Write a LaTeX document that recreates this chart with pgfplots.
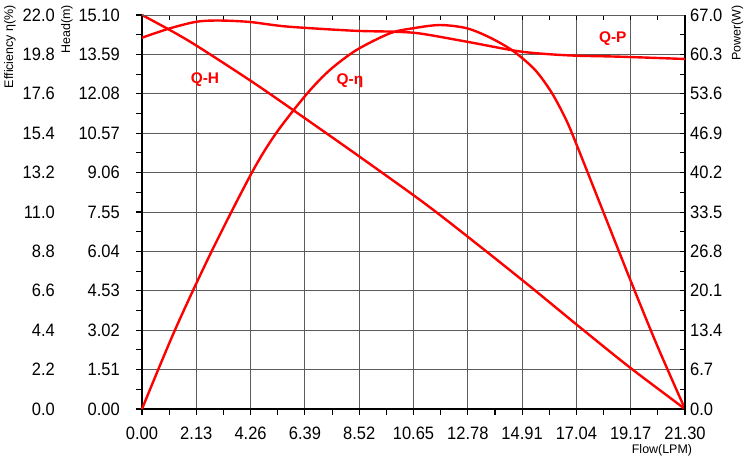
\documentclass[border=0pt]{standalone}
\usepackage{fontspec}
\setmainfont{Liberation Sans}
\newfontfamily\tickfont[FakeStretch=0.92]{Liberation Sans}
\usepackage{pgfplots}
\pgfplotsset{compat=1.18}
\definecolor{gridgray}{gray}{0.36}
\definecolor{curvered}{RGB}{255,0,0}
\pgfplotsset{
  base/.style={scale only axis, width=543bp, height=394bp, xmin=0, xmax=21.3,
    at={(0,0)}, anchor=south west, clip=false},
  tickfnt/.style={font=\fontsize{18}{18}\tickfont},
  curve/.style={curvered, line width=2.4bp, smooth},
}
\begin{document}
\begin{tikzpicture}
% ---------- Head axis (main) ----------
\begin{axis}[base, ymin=0, ymax=15.1,
  axis x line*=bottom, axis y line*=left,
  axis line style={black, line width=1.4bp},
  xtick={0,2.13,4.26,6.39,8.52,10.65,12.78,14.91,17.04,19.17,21.3},
  xticklabels={0.00,2.13,4.26,6.39,8.52,10.65,12.78,14.91,17.04,19.17,21.30},
  ytick={0,1.51,3.02,4.53,6.04,7.55,9.06,10.57,12.08,13.59,15.1},
  yticklabels={0.00,1.51,3.02,4.53,6.04,7.55,9.06,10.57,12.08,13.59,15.10},
  minor tick num=1,
  tick align=inside, major tick length=-6bp, minor tick length=-6bp,
  tick style={black, line width=1.1bp},
  grid=major, grid style={gridgray, line width=0.9bp},
  xticklabel style={tickfnt, anchor=north, inner sep=0pt, yshift=-17.5bp},
  yticklabel style={tickfnt, anchor=east, inner sep=0pt, xshift=-22bp},
]
\addplot[curve] coordinates {
(0,15.10) (1.10,14.52) (2.13,13.93) (4.26,12.58) (5.94,11.45) (8.55,9.66)
(11.17,7.82) (13.39,6.13) (15.22,4.70) (17.18,3.13) (19.14,1.59) (21.3,0)
};
\node[font=\fontsize{15.5}{15.5}\selectfont\bfseries, text=curvered, inner sep=0pt]
  at (axis description cs:0.116,0.835) {Q-H};
\node[font=\fontsize{15.5}{15.5}\selectfont\bfseries, text=curvered, inner sep=0pt]
  at (axis description cs:0.383,0.8325) {Q-η};
\node[font=\fontsize{15.5}{15.5}\selectfont\bfseries, text=curvered, inner sep=0pt]
  at (axis description cs:0.867,0.939) {Q-P};
\node[font=\fontsize{12.5}{12.5}\selectfont, inner sep=0pt]
  at (axis description cs:0.9576,-0.1058) {Flow(LPM)};
\node[font=\fontsize{12.5}{12.5}\selectfont, inner sep=0pt, rotate=90, anchor=east]
  at (axis description cs:-0.1381,1.0254) {Head(m)};
\node[font=\fontsize{12.5}{12.5}\selectfont, inner sep=0pt, rotate=90, anchor=east]
  at (axis description cs:-0.2431,1.0254) {Efficiency η(\%)};
\node[font=\fontsize{12.5}{12.5}\selectfont, inner sep=0pt, rotate=90, anchor=east]
  at (axis description cs:1.0967,1.0254) {Power(W)};
\end{axis}
% ---------- Efficiency axis ----------
\begin{axis}[base, ymin=0, ymax=22,
  hide x axis, axis y line*=left, axis line style={draw=none},
  ytick={0,2.2,4.4,6.6,8.8,11,13.2,15.4,17.6,19.8,22},
  yticklabels={0.0,2.2,4.4,6.6,8.8,11.0,13.2,15.4,17.6,19.8,22.0},
  major tick length=0pt, minor tick num=0,
  yticklabel style={tickfnt, anchor=east, inner sep=0pt, xshift=-87bp},
]
\addplot[curve] coordinates {
(0,0) (1.29,4.4) (2.73,8.8) (4.31,13.2)
(5.26,15.4) (6.47,17.6) (7.37,18.93) (8.42,20.05) (9.73,20.98) (10.64,21.26)
(11.69,21.44) (12.74,21.26) (13.65,20.74) (14.56,19.99) (15.42,18.93)
(16.08,17.64) (16.66,16.08) (17.10,14.57) (18.08,11.06) (19.14,7.26)
(20.20,3.57) (21.3,0)
};
\end{axis}
% ---------- Power axis ----------
\begin{axis}[base, ymin=0, ymax=67,
  axis x line*=top, axis y line*=right,
  x axis line style={gridgray, line width=0.9bp},
  y axis line style={black, line width=1.3bp},
  xtick={0,2.13,4.26,6.39,8.52,10.65,12.78,14.91,17.04,19.17,21.3},
  xticklabels={},
  ytick={0,6.7,13.4,20.1,26.8,33.5,40.2,46.9,53.6,60.3,67},
  yticklabels={0.0,6.7,13.4,20.1,26.8,33.5,40.2,46.9,53.6,60.3,67.0},
  minor tick num=1,
  tick align=inside, major tick length=5bp, minor tick length=5bp,
  tick style={black, line width=1.0bp},
  yticklabel style={tickfnt, anchor=west, inner sep=0pt, xshift=5bp},
]
\addplot[curve] coordinates {
(0,63.14) (1.10,64.74) (2.15,65.86) (3.06,66.06) (4.24,65.81) (5.68,65.04)
(8.29,64.33) (9.86,64.16) (10.91,63.85) (12.74,62.46) (14.70,60.88)
(15.85,60.37) (17.05,60.08) (18.75,59.91) (21.3,59.52)
};
\end{axis}
\pgfresetboundingbox
\path (-142bp,-54bp) rectangle (608bp,409bp);
\end{tikzpicture}
\end{document}
